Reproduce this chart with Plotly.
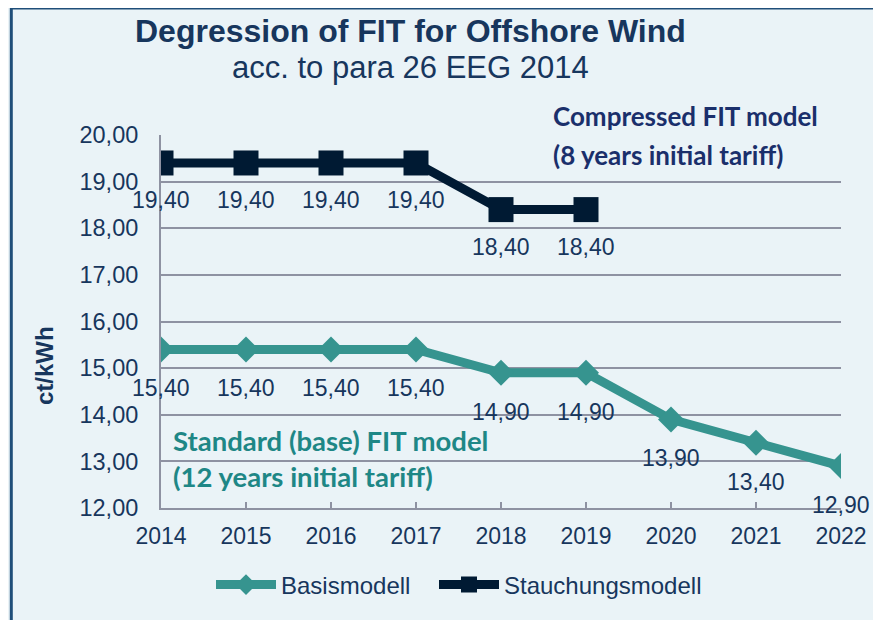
import plotly.graph_objects as go

years = [2014, 2015, 2016, 2017, 2018, 2019, 2020, 2021, 2022]
basis = [15.40, 15.40, 15.40, 15.40, 14.90, 14.90, 13.90, 13.40, 12.90]
stauch_years = [2014, 2015, 2016, 2017, 2018, 2019]
stauch = [19.40, 19.40, 19.40, 19.40, 18.40, 18.40]
y_ticks = [12, 13, 14, 15, 16, 17, 18, 19, 20]

NAVY = "#17365D"
TEAL = "#36948F"
DARK = "#001A33"
GRID = "#8E92A2"
BG = "#EAF3F7"
FONT = "Arial"
BFONT = "Lato"

W, H = 881, 620
OFF = 8  # page body margin in the browser
ML, MR, MT, MB = 153, 48, 127, 120
PW, PH = W - ML - MR, H - MT - MB


def px(x):
    return (x - OFF - ML) / PW


def py(y):
    return (H - MB - (y - OFF)) / PH


fig = go.Figure()
fig.add_trace(go.Scatter(
    x=years, y=basis, name="Basismodell", mode="lines+markers",
    line=dict(color=TEAL, width=9),
    marker=dict(symbol="diamond", size=20, color=TEAL),
    legendwidth=148,
))
fig.add_trace(go.Scatter(
    x=stauch_years, y=stauch, name="Stauchungsmodell", mode="lines+markers",
    line=dict(color=DARK, width=9),
    marker=dict(symbol="square", size=25, color=DARK),
))

annotations = []
for xs, ys, sh in ((years, basis, -39), (stauch_years, stauch, -37)):
    for x, y in zip(xs, ys):
        annotations.append(dict(
            x=x, y=y, xref="x", yref="y", text=f"{y:.2f}".replace(".", ","),
            showarrow=False, yshift=sh,
            font=dict(family=FONT, size=23, color=NAVY),
        ))

annotations += [
    dict(x=px(410.5), y=py(31.5), xref="paper", yref="paper", xanchor="center", yanchor="middle",
         text="<b>Degression of FIT for Offshore Wind</b>", showarrow=False,
         font=dict(family=FONT, size=32, color=NAVY)),
    dict(x=px(410), y=py(67.5), xref="paper", yref="paper", xanchor="center", yanchor="middle",
         text="acc. to para 26 EEG 2014", showarrow=False,
         font=dict(family=FONT, size=31, color=NAVY)),
    dict(x=px(551), y=py(116), xref="paper", yref="paper", xanchor="left", yanchor="middle",
         text="<b>Compressed FIT model</b>", showarrow=False,
         font=dict(family=BFONT, size=26, color="#1A2F6B")),
    dict(x=px(551), y=py(155), xref="paper", yref="paper", xanchor="left", yanchor="middle",
         text="<b>(8 years initial tariff)</b>", showarrow=False,
         font=dict(family=BFONT, size=26, color="#1A2F6B")),
    dict(x=px(171), y=py(440), xref="paper", yref="paper", xanchor="left", yanchor="middle",
         text="<b>Standard (base) FIT model</b>", showarrow=False,
         font=dict(family=BFONT, size=27.5, color="#1E8786")),
    dict(x=px(171), y=py(476), xref="paper", yref="paper", xanchor="left", yanchor="middle",
         text="<b>(12 years initial tariff)</b>", showarrow=False,
         font=dict(family=BFONT, size=27.5, color="#1E8786")),
    dict(x=px(44), y=py(366), xref="paper", yref="paper", xanchor="center", yanchor="middle",
         text="<b>ct/kWh</b>", showarrow=False, textangle=-90,
         font=dict(family=FONT, size=24, color=NAVY)),
]

fig.update_layout(
    width=W, height=H,
    paper_bgcolor=BG, plot_bgcolor=BG,
    margin=dict(l=ML, r=MR, t=MT, b=MB, autoexpand=False),
    separators=",.",
    font=dict(family=FONT, size=23, color=NAVY),
    showlegend=True,
    legend=dict(orientation="h", x=px(211), xanchor="left", y=py(585), yanchor="middle",
                font=dict(family=FONT, size=24, color=NAVY), itemwidth=60,
                bgcolor="rgba(0,0,0,0)"),
    xaxis=dict(
        tickmode="array", tickvals=years, ticktext=[str(y) for y in years],
        range=[2014, 2022], showgrid=False, zeroline=False,
        showline=True, linecolor=GRID, linewidth=2,
        ticks="inside", ticklen=6, tickcolor=GRID, tickwidth=2,
        tickfont=dict(family=FONT, size=23, color=NAVY), ticklabelstandoff=6,
    ),
    yaxis=dict(
        range=[12, 20], tickmode="array", tickvals=y_ticks,
        tickformat=".2f", showgrid=True, gridcolor=GRID, gridwidth=2,
        zeroline=False, showline=True, linecolor=GRID, linewidth=2,
        ticks="", tickfont=dict(family=FONT, size=23.5, color=NAVY), ticklabelstandoff=16,
    ),
    annotations=annotations,
)

# frame (top and left edges of the slide box)
fig.add_shape(type="line", xref="paper", yref="paper", x0=px(11.3), x1=px(900), y0=py(8), y1=py(8),
              line=dict(color="#1F4E79", width=3), layer="above")
fig.add_shape(type="line", xref="paper", yref="paper", x0=px(11.3), x1=px(11.3), y0=py(8), y1=py(640),
              line=dict(color="#1F4E79", width=3), layer="above")

fig.write_html("out.html")
